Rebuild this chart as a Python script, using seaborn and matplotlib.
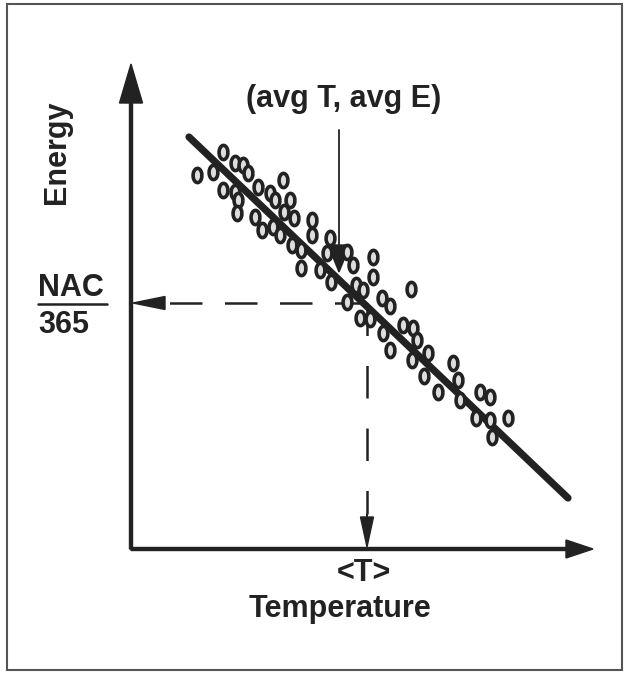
import numpy as np
import matplotlib
matplotlib.use("Agg")
import matplotlib.pyplot as plt
from matplotlib.patches import Rectangle
import seaborn as sns

# scatter of daily (temperature, energy) points, arbitrary units
temp = [6.6, 8.2, 9.2, 10.4, 11.2, 11.7, 9.2, 10.4, 10.7, 10.6, 12.7, 13.9,
        14.4, 15.2, 15.9, 12.4, 13.1, 15.3, 16.3, 14.2, 14.9, 16.1, 17.0, 17.0,
        18.1, 18.1, 19.9, 19.6, 18.9, 20.0, 21.6, 22.2, 24.2, 24.2, 22.5, 23.2,
        21.6, 25.1, 25.9, 22.9, 23.9, 25.2, 25.9, 27.2, 28.2, 28.6, 28.1, 29.7,
        29.3, 30.7, 32.2, 32.7, 32.9, 34.9, 35.9, 34.5, 35.9, 37.7, 36.1, 28.0]
energy = [37.4, 37.7, 39.7, 38.6, 38.4, 37.6, 35.9, 35.7, 34.9, 33.6, 36.2, 35.6,
          34.9, 36.9, 34.9, 33.2, 31.9, 33.7, 33.1, 32.2, 31.4, 30.4, 29.9, 28.1,
          32.9, 31.4, 31.1, 29.6, 27.9, 26.7, 29.7, 28.4, 29.2, 27.2, 26.4, 25.9,
          24.7, 25.1, 24.3, 23.1, 23.0, 21.6, 19.9, 22.4, 22.1, 20.9, 18.9, 19.6,
          17.3, 15.7, 18.6, 16.9, 14.9, 15.7, 15.2, 13.1, 12.9, 13.1, 11.2, 26.0]

# drawn fit line (end points)
fit_temp = [5.8, 43.7]
fit_energy = [41.2, 5.1]

avg_temp = 23.6
avg_energy = 24.6

ink = "#222222"

sns.set_style("white")
plt.rcParams["font.family"] = ["Liberation Sans", "DejaVu Sans"]

fig = plt.figure(figsize=(6.26, 6.73), dpi=100)
ax = fig.add_axes([0, 0, 1, 1])
ax.set_xlim(-13.1, 49.5)
ax.set_ylim(-12.4, 54.9)
ax.axis("off")

# frame around the figure
ax.add_patch(Rectangle((0.011, 0.004), 0.982, 0.99, transform=ax.transAxes,
                       fill=False, edgecolor="#555555", linewidth=1.5))

# axes with arrow heads
ax.arrow(0, 0, 0, 48.5, width=0.3, head_width=2.3, head_length=3.9,
         length_includes_head=True, color=ink)
ax.arrow(0, 0, 46.2, 0, width=0.3, head_width=1.8, head_length=2.7,
         length_includes_head=True, color=ink)

# fit line and points
sns.lineplot(x=fit_temp, y=fit_energy, ax=ax, color=ink, linewidth=5.2,
             solid_capstyle="round")
t = np.linspace(0, 2 * np.pi, 40)
oval = np.column_stack([0.62 * np.cos(t), np.sin(t)])
sns.scatterplot(x=temp, y=energy, ax=ax, marker=oval, s=105, color="#dddddd",
                edgecolor=ink, linewidth=2.6, zorder=3)

# dashed guides to the axes
ax.plot([avg_temp, 3.4], [avg_energy, avg_energy], color=ink, linewidth=1.8,
        dashes=(13, 9))
ax.arrow(3.4, avg_energy, -3.2, 0, width=0.05, head_width=1.3, head_length=3.2,
         length_includes_head=True, color=ink)
ax.plot([avg_temp, avg_temp], [avg_energy, 3.5], color=ink, linewidth=1.8,
        dashes=(13, 12))
ax.arrow(avg_temp, 3.5, 0, -3.3, width=0.05, head_width=1.3, head_length=3.0,
         length_includes_head=True, color=ink)

# pointer from the label
ax.plot([20.8, 20.8], [41.9, 30.0], color=ink, linewidth=1.3)
ax.arrow(20.8, 30.4, 0, -2.7, width=0.05, head_width=2.2, head_length=2.7,
         length_includes_head=True, color=ink)

fs = 22
ax.text(-7.4, 39.7, "Energy", rotation=90, ha="center", va="center",
        fontsize=fs, fontweight="bold", color=ink)
ax.text(-9.3, 26.1, "NAC", ha="left", va="center", fontsize=fs,
        fontweight="bold", color=ink)
ax.plot([-9.3, -2.4], [24.5, 24.5], color=ink, linewidth=1.8)
ax.text(-9.3, 22.4, "365", ha="left", va="center", fontsize=fs,
        fontweight="bold", color=ink)
ax.text(21.3, 45.0, "(avg T, avg E)", ha="center", va="center", fontsize=fs,
        fontweight="bold", color=ink)
ax.text(23.3, -2.4, "<T>", ha="center", va="center", fontsize=fs,
        fontweight="bold", color=ink)
ax.text(20.9, -6.0, "Temperature", ha="center", va="center", fontsize=fs,
        fontweight="bold", color=ink)

fig.savefig("out.png", dpi=100)
